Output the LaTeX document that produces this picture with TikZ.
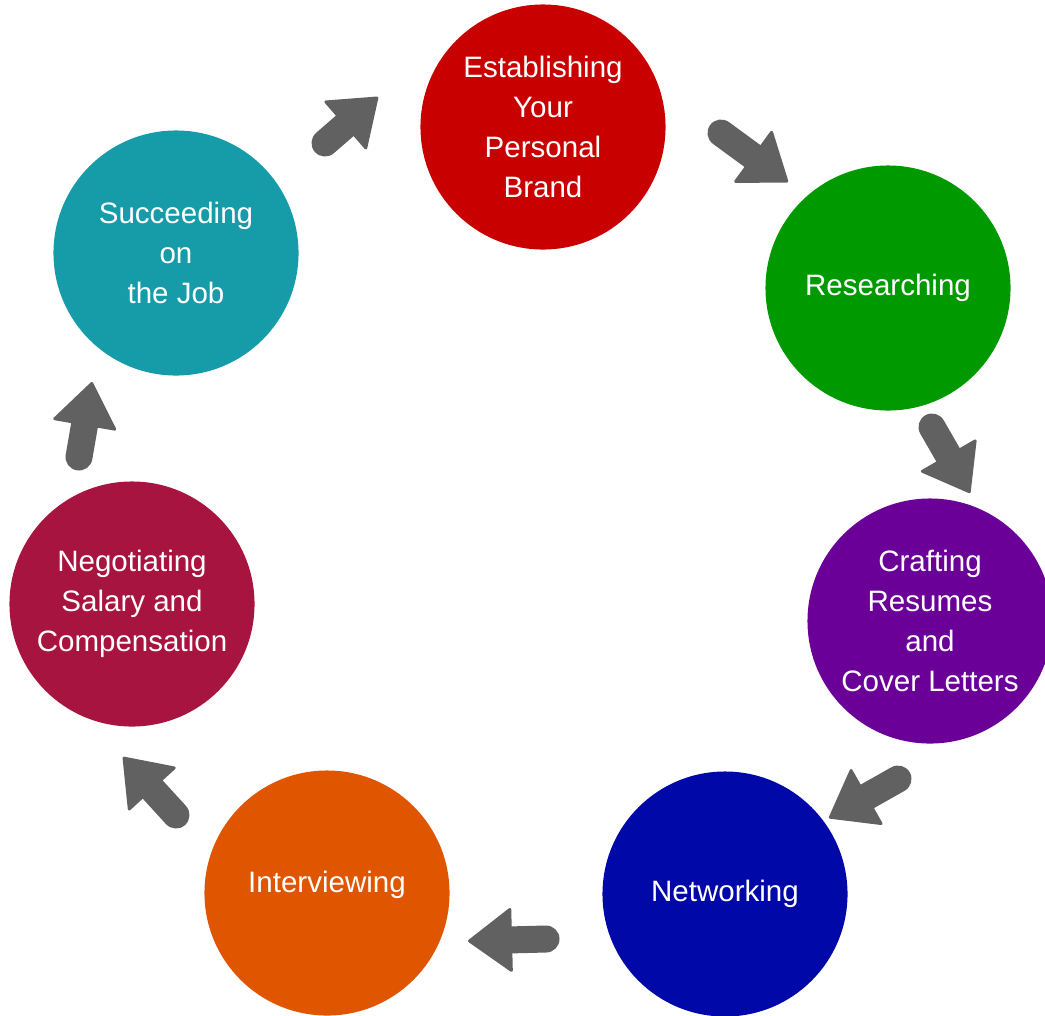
\documentclass[tikz,border=0pt]{standalone}
\usepackage{fontspec}
\setmainfont{Liberation Sans}
\usepackage{xcolor}
\usepackage{tikz}
\usetikzlibrary{arrows.meta,positioning}
\definecolor{cbrand}{HTML}{C80000}
\definecolor{cresearch}{HTML}{009900}
\definecolor{cresume}{HTML}{6B0099}
\definecolor{cnetwork}{HTML}{0008A8}
\definecolor{cinterview}{HTML}{E05500}
\definecolor{csalary}{HTML}{A81440}
\definecolor{cjob}{HTML}{159CA8}
\definecolor{cgrey}{HTML}{616161}
\tikzset{
  cstage/.style={circle, draw=none, minimum size=6.125cm, inner sep=0pt,
                 text=white, align=center, font=\fontsize{21}{28.5}\selectfont},
  cstep/.style={cgrey, line width=0.675cm, line cap=round,
                -{Triangle[length=1.125cm, width=1.65cm, line width=2pt, round]}},
}

\begin{document}
\begin{tikzpicture}[x=0.025cm,y=-0.025cm]
  \useasboundingbox (0,0) rectangle (1045,1015);

  % ---- stages ----
  \node[cstage, fill=cbrand]     (brand)     at (543,127) {Establishing\\Your\\Personal\\Brand};
  \node[cstage, fill=cresearch]  (research)  at (888,288) {Researching};
  \node[cstage, fill=cresume]    (resume)    at (930,621) {Crafting\\Resumes\\and\\Cover Letters};
  \node[cstage, fill=cnetwork]   (network)   at (725,894) {Networking};
  \node[cstage, fill=cinterview, text depth=16pt] (interview) at (327,893) {Interviewing};
  \node[cstage, fill=csalary]    (salary)    at (132,604) {Negotiating\\Salary and\\Compensation};
  \node[cstage, fill=cjob]       (job)       at (176,253) {Succeeding\\on\\the Job};

  % ---- steps between the stages ----
  \coordinate (s1a) at (325,143); \coordinate (s1b) at (378,97);
  \coordinate (s2a) at (721,133); \coordinate (s2b) at (788,182);
  \coordinate (s3a) at (932,427); \coordinate (s3b) at (970,493);
  \coordinate (s4a) at (898,779); \coordinate (s4b) at (829,818);
  \coordinate (s5a) at (546,939); \coordinate (s5b) at (468,941);
  \coordinate (s6a) at (176,815); \coordinate (s6b) at (123,757);
  \coordinate (s7a) at (79,457);  \coordinate (s7b) at (92,382);
  \foreach \i in {1,...,7}
    \draw[cstep] (s\i a) -- (s\i b);

\end{tikzpicture}
\end{document}
